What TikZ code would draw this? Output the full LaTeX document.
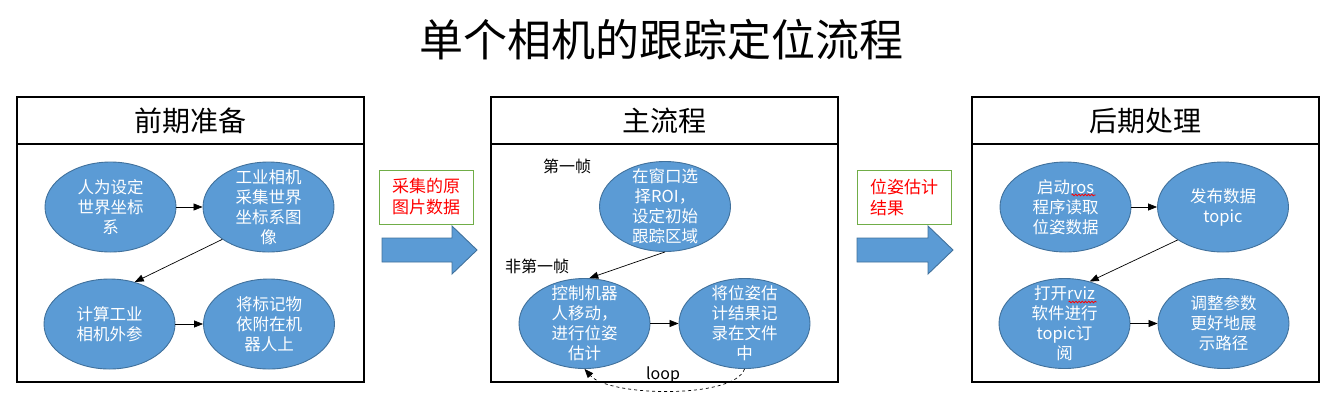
\documentclass[tikz,border=0pt]{standalone}
\usepackage{fontspec}
\setmainfont{Noto Sans CJK SC}
\usetikzlibrary{arrows.meta,shapes.geometric,decorations.pathmorphing}
\definecolor{ellfill}{HTML}{5B9BD5}
\definecolor{elldraw}{HTML}{41719C}
\definecolor{lblgreen}{HTML}{70AD47}
\begin{document}
\begin{tikzpicture}[x=1pt,y=-1pt,
  panel/.style={draw=black,line width=1.6pt},
  ptitle/.style={font=\fontsize{28}{32}\selectfont,inner sep=0pt},
  ell/.style={ellipse,draw=elldraw,line width=0.9pt,fill=ellfill,minimum width=131pt,minimum height=90pt,inner sep=-25pt,text=white,align=center,font=\fontsize{16.5}{20}\selectfont},
  flow/.style={-{Triangle[length=9pt,width=7pt]},line width=0.7pt},
  loopline/.style={-{Triangle[length=9pt,width=7pt]},line width=0.7pt,dashed},
  lbl/.style={draw=lblgreen,line width=0.8pt,minimum width=94pt,minimum height=54pt,inner sep=0pt,text=red,align=left,font=\fontsize{17}{21}\selectfont},
  bigarrow/.style={fill=ellfill,draw=elldraw,line width=0.9pt},
  spellwave/.style={draw=red,line width=0.8pt,decorate,decoration={snake,amplitude=0.8pt,segment length=3.2pt}},
  note/.style={font=\fontsize{16}{19}\selectfont,inner sep=0pt}]
\useasboundingbox (0,0) rectangle (1338,408);

% main title
\node[font=\fontsize{44}{52}\selectfont,inner sep=0pt] (title) at (661,40) {单个相机的跟踪定位流程};

% panels
\draw[panel] (17,97) rectangle (364,382);
\draw[panel] (17,144) -- (364,144);
\draw[panel] (491,97) rectangle (838,382);
\draw[panel] (491,144) -- (838,144);
\draw[panel] (972,97) rectangle (1319,382);
\draw[panel] (972,144) -- (1319,144);
\node[ptitle] (t1) at (190.5,121) {前期准备};
\node[ptitle] (t2) at (664.5,121) {主流程};
\node[ptitle] (t3) at (1145.5,121) {后期处理};

% panel 1
\node[ell] (e1) at (110.5,207) {人为设定\\世界坐标\\系};
\node[ell] (e2) at (268.5,207) {工业相机\\采集世界\\坐标系图\\像};
\node[ell] (e3) at (109.5,324) {计算工业\\相机外参};
\node[ell] (e4) at (269,324) {将标记物\\依附在机\\器人上};
\draw[flow] (e1) -- (e2);
\draw[flow] (e2.215) -- (e3.59);
\draw[flow] (e3) -- (e4);

% label + big arrow 1
\node[lbl] (l1) at (426,197) {采集的原\\图片数据};
\draw[bigarrow] (382,238) -- (452,238) -- (452,226) -- (477,250) -- (452,274) -- (452,262) -- (382,262) -- cycle;

% panel 2
\node[note] (n1) at (567,166) {第一帧};
\node[note] (n2) at (537,266) {非第一帧};
\node[ell] (e5) at (665,206.5) {在窗口选\\择ROI，\\设定初始\\跟踪区域};
\node[ell] (e6) at (584.5,323.5) {控制机器\\人移动，\\进行位姿\\估计};
\node[ell] (e7) at (744.5,323.5) {将位姿估\\计结果记\\录在文件\\中};
\draw[flow] (e5.south) -- (e6.84);
\draw[flow] (e6) -- (e7);
\draw[loopline] (e7.south) .. controls +(-10,30) and +(25,28) .. (e6.south);
\node[note] (lp) at (663,375) {loop};

% label + big arrow 2
\node[lbl] (l2) at (904,197) {位姿估计\\结果};
\draw[bigarrow] (857,238) -- (928,238) -- (928,226) -- (953,250) -- (928,274) -- (928,262) -- (857,262) -- cycle;

% panel 3
\node[ell] (e8) at (1065.5,207) {启动ros\\程序读取\\位姿数据};
\node[ell] (e9) at (1223,207) {发布数据\\topic};
\node[ell] (e10) at (1064.5,323.5) {打开rviz\\软件进行\\topic订\\阅};
\node[ell] (e11) at (1223.5,323.5) {调整参数\\更好地展\\示路径};
\draw[flow] (e8) -- (e9);
\draw[flow] (e9.216) -- (e10.59);
\draw[flow] (e10) -- (e11);
\coordinate (w1a) at ([shift={(6,-12)}]e8.center);
\coordinate (w1b) at ([shift={(30,-12)}]e8.center);
\coordinate (w2a) at ([shift={(4,-21.5)}]e10.center);
\coordinate (w2b) at ([shift={(32,-21.5)}]e10.center);
\draw[spellwave] (w1a) -- (w1b);
\draw[spellwave] (w2a) -- (w2b);
\end{tikzpicture}
\end{document}
